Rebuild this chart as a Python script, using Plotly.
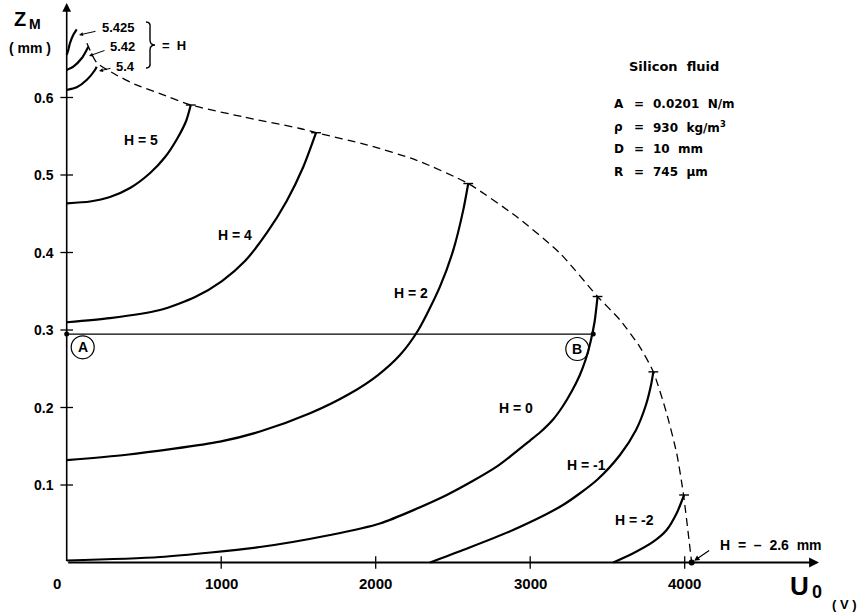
import plotly.graph_objects as go

# ---------------- geometry helpers (layout placement only) ----------------
X0PX, XPX_PER_UNIT = 66.7, 0.1545
Y0PX, YPX_PER_UNIT = 562.5, 775.0
L, R, T, B = 60, 36, 2, 40
WIDTH, HEIGHT = 860, 614

# ---------------- data ----------------
# U0 in volts, zM in mm, one curve per H value (mm)
H5425_U = [0, 10, 21, 43, 65]
H5425_Z = [0.655, 0.661, 0.670, 0.681, 0.688]
H542_U = [0, 43, 97, 129, 140]
H542_Z = [0.6355, 0.6397, 0.6506, 0.6613, 0.6656]
H54_U = [0, 65, 129, 183, 194]
H54_Z = [0.6097, 0.6132, 0.6226, 0.6355, 0.6397]
H5_U = [0, 151, 280, 410, 540, 637, 714, 773, 803]
H5_Z = [0.4635, 0.4658, 0.4716, 0.4832, 0.5026, 0.5232, 0.5465, 0.5697, 0.5903]
H4_U = [0, 280, 604, 831, 1005, 1154, 1295, 1424, 1531, 1614]
H4_Z = [0.310, 0.3153, 0.3258, 0.3426, 0.3632, 0.3890, 0.4252, 0.4665, 0.5103, 0.5546]
H2_U = [0, 388, 992, 1251, 1575, 1834, 2015, 2157, 2276, 2416, 2502, 2567, 2599]
H2_Z = [0.132, 0.139, 0.156, 0.169, 0.1925, 0.218, 0.2419, 0.2677, 0.300, 0.356, 0.403, 0.455, 0.489]
H0_U = [0, 604, 1251, 1705, 2027, 2460, 2783, 2999, 3063, 3148, 3210, 3268, 3320,
        3359, 3391, 3417, 3436]
H0_Z = [0.0026, 0.0071, 0.0200, 0.0355, 0.0503, 0.0871, 0.1236, 0.1574, 0.1677,
        0.1845, 0.2013, 0.2206, 0.2413, 0.2619, 0.2852, 0.3110, 0.3432]
Hm1_U = [2352, 2565, 2889, 3212, 3432, 3581, 3685, 3749, 3782, 3797]
Hm1_Z = [0.0, 0.0161, 0.0419, 0.0742, 0.1065, 0.1387, 0.171, 0.2032, 0.229, 0.246]
Hm2_U = [3538, 3667, 3797, 3883, 3948, 3996]
Hm2_Z = [0.0, 0.0119, 0.0268, 0.0419, 0.0635, 0.0871]
# dashed envelope (maximum height)
ENV_U = [131, 194, 313, 442, 604, 803, 1143, 1510, 1614, 1942, 2265, 2599, 2913,
         3193, 3436, 3581, 3710, 3797, 3883, 3948, 3991, 4045]
ENV_Z = [0.670, 0.645, 0.630, 0.617, 0.605, 0.5903, 0.575, 0.560, 0.5546, 0.539, 0.519,
         0.489, 0.446, 0.399, 0.3432, 0.313, 0.278, 0.246, 0.1925, 0.141, 0.0893, 0.0]
# points A and B
AB_U = [0, 3408]
AB_Z = [0.2948, 0.2948]
END_U = [4045]
END_Z = [0.0]
# ticks
X_TICKS = [1000, 2000, 3000, 4000]
X_TICK_TEXT = ["1000", "2000", "3000", "4000"]
Y_TICKS = [0.1, 0.2, 0.3, 0.4, 0.5, 0.6]
Y_TICK_TEXT = ["0.1", "0.2", "0.3", "0.4", "0.5", "0.6"]
CURVE_LABELS = ["H = 5", "H = 4", "H = 2", "H = 0", "H = -1", "H = -2"]

XR = [(L - X0PX) / XPX_PER_UNIT, (WIDTH - R - X0PX) / XPX_PER_UNIT]
YR = [(Y0PX - (HEIGHT - B)) / YPX_PER_UNIT, (Y0PX - T) / YPX_PER_UNIT]
PW, PH = WIDTH - L - R, HEIGHT - T - B


def px_paper(px):
    return (px - L) / PW


def py_paper(py):
    return (HEIGHT - B - py) / PH


FONT = "Liberation Sans, Arial, sans-serif"
WIDE = "DejaVu Sans, Liberation Sans, sans-serif"
fig = go.Figure()


def curve(u, z, width=2.2, dash=None, smooth=0.7):
    fig.add_trace(go.Scatter(
        x=u, y=z, mode="lines",
        line=dict(color="black", width=width, shape="spline", smoothing=smooth,
                  dash=dash),
        hoverinfo="skip", showlegend=False))


MAIN = [(H5_U, H5_Z), (H4_U, H4_Z), (H2_U, H2_Z), (H0_U, H0_Z),
        (Hm1_U, Hm1_Z), (Hm2_U, Hm2_Z)]
for u, z in [(H5425_U, H5425_Z), (H542_U, H542_Z), (H54_U, H54_Z)] + MAIN:
    curve(u, z)

curve(ENV_U, ENV_Z, width=1.3, dash="8px,5px", smooth=0.6)

# small caps where each curve meets the envelope
fig.add_trace(go.Scatter(x=[u[-1] for u, z in MAIN], y=[z[-1] for u, z in MAIN],
                         mode="markers",
                         marker=dict(symbol="line-ew", size=7,
                                     line=dict(color="black", width=1.4)),
                         hoverinfo="skip", showlegend=False))

# horizontal A-B line
fig.add_trace(go.Scatter(x=AB_U, y=AB_Z, mode="lines+markers",
                         line=dict(color="black", width=1.3),
                         marker=dict(color="black", size=5),
                         hoverinfo="skip", showlegend=False))
fig.add_trace(go.Scatter(x=END_U, y=END_Z, mode="markers",
                         marker=dict(color="black", size=6),
                         hoverinfo="skip", showlegend=False))

# tick crosses
fig.add_trace(go.Scatter(x=[0] * len(Y_TICKS), y=Y_TICKS, mode="markers",
                         marker=dict(symbol="line-ew", size=9,
                                     line=dict(color="black", width=1.3)),
                         hoverinfo="skip", showlegend=False))
fig.add_trace(go.Scatter(x=X_TICKS, y=[0] * len(X_TICKS), mode="markers",
                         marker=dict(symbol="line-ns", size=9,
                                     line=dict(color="black", width=1.3)),
                         hoverinfo="skip", showlegend=False))

ann = []


def txt(px, py, s, size=13, xanchor="center", yanchor="middle", family=FONT):
    ann.append(dict(x=px_paper(px), y=py_paper(py), xref="paper", yref="paper",
                    text="<b>%s</b>" % s,
                    showarrow=False, xanchor=xanchor, yanchor=yanchor,
                    font=dict(family=family, size=size, color="black")))


# axes with arrows
ann.append(dict(x=0, y=(Y0PX - 3) / YPX_PER_UNIT, ax=0, ay=0, xref="x", yref="y",
                axref="x", ayref="y",
                text="", showarrow=True, arrowhead=2, arrowsize=1.1, arrowwidth=1.6,
                arrowcolor="black"))
ann.append(dict(x=(819 - X0PX) / XPX_PER_UNIT, y=0, ax=0, ay=0, xref="x", yref="y",
                axref="x", ayref="y",
                text="", showarrow=True, arrowhead=2, arrowsize=1.1, arrowwidth=1.8,
                arrowcolor="black"))

# tick labels
for v, s in zip(Y_TICKS, Y_TICK_TEXT):
    ann.append(dict(x=0, y=v, xref="x", yref="y", text="<b>%s</b>" % s,
                    showarrow=False, xanchor="right", xshift=-11,
                    font=dict(family=FONT, size=14, color="black")))
for v, s in zip(X_TICKS, X_TICK_TEXT):
    ann.append(dict(x=v, y=0, xref="x", yref="y", text="<b>%s</b>" % s,
                    showarrow=False, yanchor="middle", yshift=-21,
                    font=dict(family=FONT, size=15, color="black")))
ann.append(dict(x=0, y=0, xref="x", yref="y", text="<b>0</b>", showarrow=False,
                yanchor="middle", yshift=-21, xshift=-10,
                font=dict(family=FONT, size=15, color="black")))

# axis titles
txt(20, 19, "Z", size=20)
txt(35, 24, "M", size=14)
txt(30, 48, "( mm )", size=14)
txt(799, 586, "U", size=26)
txt(817, 592, "0", size=18)
txt(844, 604, "( V )", size=13)

# parameter block
txt(627, 66, "Silicon  fluid", size=13, xanchor="left", family=WIDE)
rows = [("A", "0.0201  N/m", 104), ("\u03c1", "930  kg/m<sup>3</sup>", 127),
        ("D", "10  mm", 149), ("R", "745  \u00b5m", 172)]
for a, b, y in rows:
    txt(612, y, a, size=12, xanchor="left", family=WIDE)
    txt(632, y, "=", size=12, xanchor="left", family=WIDE)
    txt(651, y, b, size=12, xanchor="left", family=WIDE)

# curve labels
label_pos = [(141, 140), (235, 235), (411, 293), (516, 408), (586, 465), (634, 520)]
for s, (px, py) in zip(CURVE_LABELS, label_pos):
    txt(px, py, s, size=14)

txt(771, 545, "H  =  \u2013  2.6  mm", size=14)
ann.append(dict(x=END_U[0], y=0, xref="x", yref="y", ax=19, ay=-13, text="",
                showarrow=True, arrowhead=2, arrowsize=0.9, arrowwidth=1.2,
                arrowcolor="black", standoff=3))

# small H labels near the top
txt(137, 27, "5.425", size=13, xanchor="right")
txt(137, 47, "5.42", size=13, xanchor="right")
txt(137, 66, "5.4", size=13, xanchor="right")
for (tx, ty), (hx, hy) in [((97, 31), (79, 35)), ((106, 50), (89, 56)),
                           ((112, 68), (99, 71))]:
    ann.append(dict(x=(hx - X0PX) / XPX_PER_UNIT, y=(Y0PX - hy) / YPX_PER_UNIT,
                    ax=(tx - X0PX) / XPX_PER_UNIT, ay=(Y0PX - ty) / YPX_PER_UNIT,
                    xref="x", yref="y",
                    axref="x", ayref="y", text="", showarrow=True, arrowhead=2,
                    arrowsize=0.8, arrowwidth=1.0, arrowcolor="black"))
txt(174, 45, "=  H", size=13)

# circled A and B
txt(82.7, 347.5, "A", size=14)
txt(577.3, 349, "B", size=14)

shapes = []
for cx, cy in [(82.7, 347.3), (577.3, 349)]:
    shapes.append(dict(type="circle", xref="paper", yref="paper", xsizemode="pixel",
                       ysizemode="pixel", xanchor=px_paper(cx), yanchor=py_paper(cy),
                       x0=-11.5, x1=11.5, y0=-11.5, y1=11.5,
                       line=dict(color="black", width=1.2)))
# brace
bp = [(146, 22), (151, 22), (150, 28), (150, 40), (150, 45), (155, 45), (150, 45),
      (150, 50), (150, 62), (151, 68), (146, 68)]
P = [(px_paper(a), py_paper(b)) for a, b in bp]
path = ("M {0[0]},{0[1]} Q {1[0]},{1[1]} {2[0]},{2[1]} L {3[0]},{3[1]} "
        "Q {4[0]},{4[1]} {5[0]},{5[1]} Q {6[0]},{6[1]} {7[0]},{7[1]} "
        "L {8[0]},{8[1]} Q {9[0]},{9[1]} {10[0]},{10[1]}").format(*P)
shapes.append(dict(type="path", xref="paper", yref="paper", path=path,
                   line=dict(color="black", width=1.4)))

fig.update_layout(
    width=WIDTH, height=HEIGHT,
    margin=dict(l=L, r=R, t=T, b=B),
    paper_bgcolor="white", plot_bgcolor="white",
    xaxis=dict(range=XR, visible=False, fixedrange=True),
    yaxis=dict(range=YR, visible=False, fixedrange=True),
    showlegend=False,
    annotations=ann, shapes=shapes,
    font=dict(family=FONT, color="black"),
)

fig.write_html("out.html", config={"displayModeBar": False},
               post_script="document.body.style.margin='0';")
